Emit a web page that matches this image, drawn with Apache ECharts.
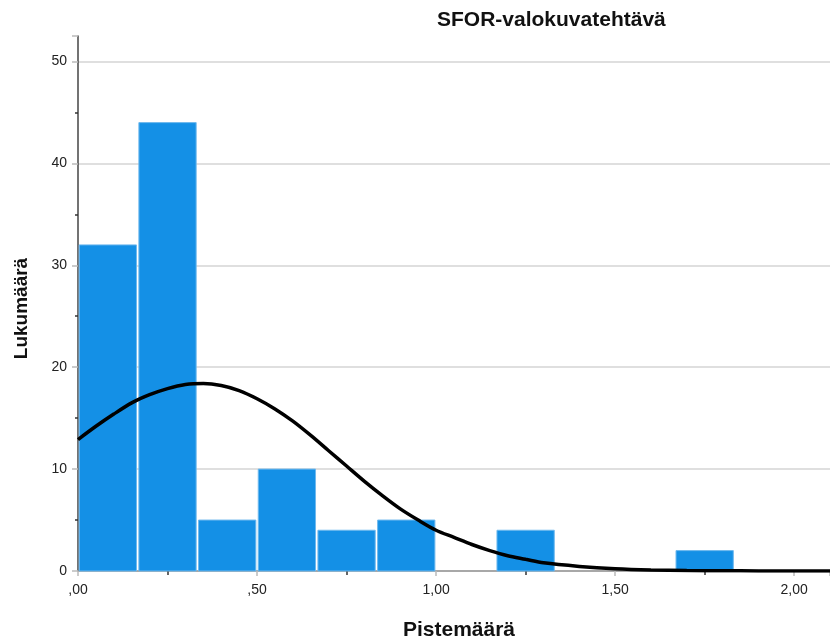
<!DOCTYPE html>
<html>
<head>
<meta charset="utf-8">
<script src="https://cdn.jsdelivr.net/npm/echarts@6/dist/echarts.min.js"></script>
<style>html,body{margin:0;padding:0;background:#fff}#c{width:830px;height:638px}</style>
</head>
<body>
<div id="c"></div>
<script>
// Histogram bins (start, end) and counts
const binStarts = [0, 1/6, 2/6, 3/6, 4/6, 5/6, 6/6, 7/6, 8/6, 9/6, 10/6];
const binEnds   = [1/6, 2/6, 3/6, 4/6, 5/6, 6/6, 7/6, 8/6, 9/6, 10/6, 11/6];
const counts    = [32, 44, 5, 10, 4, 5, 0, 4, 0, 0, 2];
// Normal curve points
const curveX = [0, 0.05, 0.1, 0.15, 0.2, 0.25, 0.3, 0.35, 0.4, 0.45, 0.5, 0.55, 0.6, 0.65, 0.7, 0.75, 0.8, 0.85, 0.9, 0.95, 1.0, 1.05, 1.1, 1.15, 1.2, 1.25, 1.3, 1.4, 1.5, 1.6, 1.7, 1.8, 1.9, 2.0, 2.1];
const curveY = [12.9, 14.2, 15.4, 16.5, 17.3, 17.9, 18.3, 18.4, 18.2, 17.7, 16.9, 15.9, 14.7, 13.3, 11.8, 10.3, 8.8, 7.4, 6.1, 5.0, 4.0, 3.3, 2.6, 2.0, 1.5, 1.15, 0.8, 0.45, 0.22, 0.1, 0.05, 0.02, 0.01, 0.0, 0.0];
const yTicks = [0, 10, 20, 30, 40, 50];
const xTicks = [0, 0.5, 1.0, 1.5, 2.0];
const title = 'SFOR-valokuvatehtävä';
const xName = 'Pistemäärä';
const yName = 'Lukumäärä';

const FONT = '"Liberation Sans", Arial, sans-serif';
const chart = echarts.init(document.getElementById('c'), null, {renderer: 'canvas'});

const barData = binStarts.map((s, i) => [s, binEnds[i], counts[i]]).filter(d => d[2] > 0);
const lineData = curveX.map((x, i) => [x, curveY[i]]);

chart.setOption({
  animation: false,
  backgroundColor: '#fff',
  title: {
    text: title, left: 437, top: 10, padding: 0,
    textStyle: {fontFamily: FONT, fontWeight: 'bold', fontSize: 21, color: '#111'}
  },
  grid: {left: 78, right: 0, top: 36, bottom: 67, containLabel: false, outerBoundsMode: 'none'},
  xAxis: {
    type: 'value', min: 0, max: 2.1, interval: 0.5,
    name: xName, nameLocation: 'middle', nameGap: 49,
    nameTextStyle: {fontFamily: FONT, fontWeight: 'bold', fontSize: 21, color: '#111', padding: [0, 0, 0, 10]},
    axisLine: {show: true, lineStyle: {color: '#8c8c8c', width: 1.5}},
    axisTick: {show: true, length: 5, lineStyle: {color: '#bbbbbb', width: 1.5}},
    minorTick: {show: true, splitNumber: 2, length: 4, lineStyle: {color: '#333', width: 1.5}},
    axisLabel: {
      showMaxLabel: false, margin: 12, fontFamily: FONT, fontSize: 14, color: '#222',
      formatter: v => xTicks.indexOf(v) >= 0 ? v.toFixed(2).replace('.', ',').replace(/^0/, '') : ''
    },
    splitLine: {show: false}
  },
  yAxis: {
    type: 'value', min: 0, max: 52.5, interval: 10,
    name: yName, nameLocation: 'middle', nameGap: 47, nameRotate: 90,
    nameTextStyle: {fontFamily: FONT, fontWeight: 'bold', fontSize: 19, color: '#111', padding: [0, 10, 0, 0]},
    axisLine: {show: true, lineStyle: {color: '#444', width: 1.5}},
    axisTick: {show: true, length: 6, lineStyle: {color: '#bbbbbb', width: 1.5}},
    minorTick: {show: true, splitNumber: 2, length: 3, lineStyle: {color: '#333', width: 1.5}},
    axisLabel: {
      showMaxLabel: false, margin: 11, fontFamily: FONT, fontSize: 14, color: '#222',
      formatter: v => yTicks.indexOf(v) >= 0 ? String(v) : ''
    },
    splitLine: {show: true, showMaxLine: false, showMinLine: false, lineStyle: {color: '#d4d4d4', width: 1.5}}
  },
  series: [
    {
      type: 'custom',
      data: barData,
      encode: {x: [0, 1], y: 2},
      renderItem: function (params, api) {
        const p0 = api.coord([api.value(0), api.value(2)]);
        const p1 = api.coord([api.value(1), 0]);
        return {
          type: 'rect',
          shape: {x: p0[0] + 1.2, y: p0[1], width: p1[0] - p0[0] - 2.4, height: p1[1] - p0[1]},
          style: {fill: '#1490E6', stroke: '#6fb9ee', lineWidth: 1}
        };
      },
      z: 2
    },
    {
      type: 'line',
      data: lineData,
      smooth: 0.3,
      showSymbol: false,
      lineStyle: {color: '#000', width: 3.5},
      z: 3
    }
  ]
});
</script>
</body>
</html>
